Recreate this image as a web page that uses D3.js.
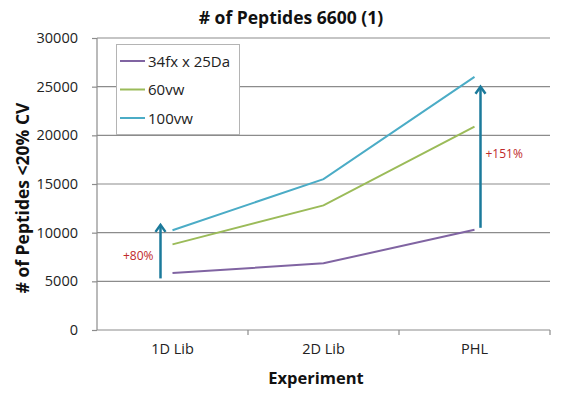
<!DOCTYPE html>
<html><head><meta charset="utf-8">
<script src="https://cdn.jsdelivr.net/npm/d3@7"></script>
<style>body{margin:0;background:#fff}svg{display:block}text{font-family:"Open Sans","Liberation Sans",sans-serif}</style>
</head><body><svg id="c" width="580" height="394"></svg>
<script>
const categories = ["1D Lib", "2D Lib", "PHL"];
const seriesNames = ["34fx x 25Da", "60vw", "100vw"];
const s34fx = [5850, 6850, 10300];
const s60vw = [8800, 12800, 20900];
const s100vw = [10250, 15500, 26000];
const yTicks = [0, 5000, 10000, 15000, 20000, 25000, 30000];
const colors = ["#8064A2", "#9BBB59", "#4BACC6"];
const annotations = [
  {cat: "1D Lib", from: 5300, to: 10800, labelAt: 7600, label: "+80%"},
  {cat: "PHL", from: 10500, to: 25000, labelAt: 18100, label: "+151%"}
];

const svg = d3.select("#c");
const m = {l: 97, r: 30, t: 38, b: 64};
const W = 580, H = 394;
const x = d3.scaleBand().domain(categories).range([m.l, W - m.r]);
const y = d3.scaleLinear().domain([0, 30000]).range([H - m.b, m.t]);

// gridlines
svg.append("g").selectAll("line").data(yTicks.slice(1)).join("line")
  .attr("x1", m.l).attr("x2", W - m.r)
  .attr("y1", d => y(d)).attr("y2", d => y(d))
  .attr("stroke", "#8c8c8c").attr("stroke-width", 1.2);

// y axis
const ya = svg.append("g").attr("transform", `translate(${m.l},0)`)
  .call(d3.axisLeft(y).tickValues(yTicks).tickSize(5).tickPadding(14).tickFormat(d3.format("d")));
ya.selectAll("path,line").attr("stroke", "#8c8c8c").attr("stroke-width", 1.2);
ya.selectAll("text").attr("font-size", 14.5).attr("fill", "#222");
ya.select(".domain").attr("d", `M0,${y(0)}V${y(30000)}`);

// x axis
const xa = svg.append("g").attr("transform", `translate(0,${y(0)})`)
  .call(d3.axisBottom(x).tickSize(0).tickPadding(14));
xa.selectAll("path").attr("stroke", "#8c8c8c").attr("stroke-width", 1.2);
xa.select(".domain").attr("d", `M${m.l},0H${W - m.r}`);
xa.selectAll("text").attr("font-size", 14.5).attr("fill", "#222");
// category boundary ticks
xa.append("g").selectAll("line").data(categories).join("line")
  .attr("x1", d => x(d) + x.bandwidth()).attr("x2", d => x(d) + x.bandwidth())
  .attr("y1", 0).attr("y2", 5).attr("stroke", "#8c8c8c").attr("stroke-width", 1.2);

// lines
const allSeries = [s34fx, s60vw, s100vw];
const line = d3.line().x((d, i) => x(categories[i]) + x.bandwidth() / 2).y(d => y(d));
svg.append("g").selectAll("path").data(allSeries).join("path")
  .attr("d", line).attr("fill", "none")
  .attr("stroke", (d, i) => colors[i]).attr("stroke-width", 2);

// arrows
const offs = {"1D Lib": -12, "PHL": 6};
annotations.forEach(a => {
  const cx = x(a.cat) + x.bandwidth() / 2 + offs[a.cat];
  svg.append("line").attr("x1", cx).attr("x2", cx)
    .attr("y1", y(a.from)).attr("y2", y(a.to) + 1)
    .attr("stroke", "#1B7A9B").attr("stroke-width", 2.5);
  svg.append("path").attr("d", `M${cx - 5},${y(a.to) + 7} L${cx},${y(a.to)} L${cx + 5},${y(a.to) + 7}`)
    .attr("fill", "none").attr("stroke", "#1B7A9B").attr("stroke-width", 2.5);
  const isR = a.cat === "PHL";
  svg.append("text").attr("x", isR ? cx + 5 : cx - 7)
    .attr("y", y(a.labelAt) + 4)
    .attr("text-anchor", isR ? "start" : "end")
    .attr("font-size", 12).attr("fill", "#C0292B").text(a.label);
});

// legend
const lg = svg.append("g");
lg.append("rect").attr("x", 116.5).attr("y", 44.5).attr("width", 123).attr("height", 90)
  .attr("fill", "#fff").attr("stroke", "#b4b4b4");
seriesNames.forEach((n, i) => {
  const ly = 61 + i * 28.5;
  lg.append("line").attr("x1", 120).attr("x2", 145).attr("y1", ly).attr("y2", ly)
    .attr("stroke", colors[i]).attr("stroke-width", 2);
  lg.append("text").attr("x", 148).attr("y", ly + 5.5).attr("font-size", 15).attr("fill", "#222").text(n);
});

// titles
svg.append("text").attr("x", 291).attr("y", 24).attr("text-anchor", "middle")
  .attr("font-size", 17.5).attr("font-weight", "bold").attr("fill", "#111").text("# of Peptides 6600 (1)");
svg.append("text").attr("transform", `translate(29,198) rotate(-90)`)
  .attr("text-anchor", "middle").attr("font-size", 17.5).attr("font-weight", "bold").attr("fill", "#111")
  .text("# of Peptides <20% CV");
svg.append("text").attr("x", 316).attr("y", 384).attr("text-anchor", "middle")
  .attr("font-size", 16.5).attr("font-weight", "bold").attr("fill", "#111").text("Experiment");
</script></body></html>
